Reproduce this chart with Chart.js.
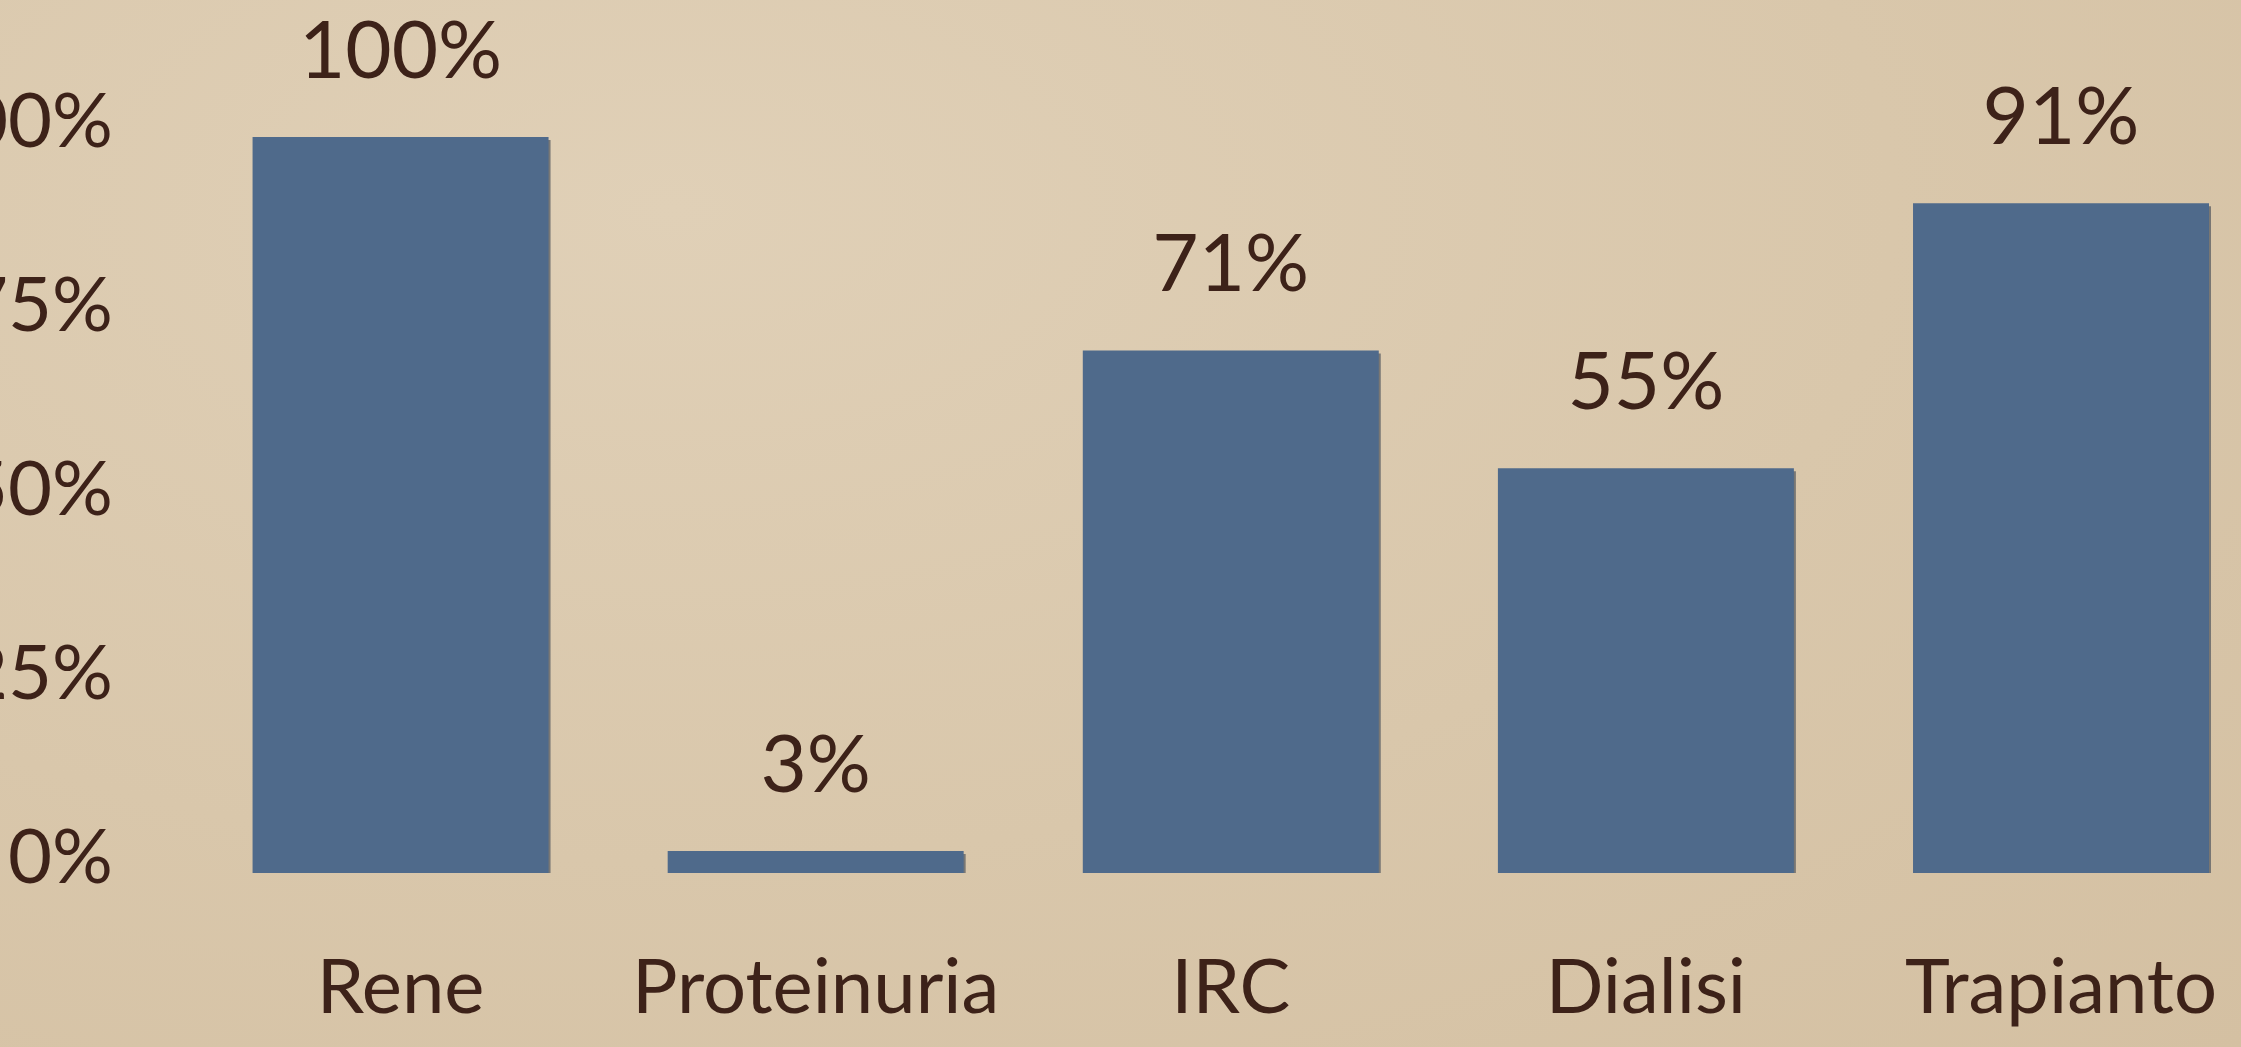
<!DOCTYPE html>
<html>
<head>
<meta charset="utf-8">
<script src="https://cdn.jsdelivr.net/npm/chart.js@4/dist/chart.umd.min.js"></script>
<style>
  html, body { margin: 0; padding: 0; overflow: hidden; }
  body {
    width: 2241px; height: 1047px; position: relative;
    background: radial-gradient(ellipse at 30% 20%, #e0d0b7 0%, #d9c7ab 55%, #d4c0a2 100%);
  }
  #wrap { position: absolute; left: -77px; top: 0; width: 2364px; height: 1047px; }
</style>
</head>
<body>
<div id="wrap"><canvas id="chart"></canvas></div>
<script>
// dati
const categorie = ['Rene', 'Proteinuria', 'IRC', 'Dialisi', 'Trapianto'];
const valori = [100, 3, 71, 55, 91];
const tickY = [0, 25, 50, 75, 100];

const inchiostro = '#3d2219';
const blu = '#4f6a8b';

// etichette sopra le barre
const etichette = {
    id: 'etichette',
    afterDatasetsDraw(chart) {
        const ctx = chart.ctx;
        const meta = chart.getDatasetMeta(0);
        ctx.save();
        ctx.font = '80px Lato';
        ctx.fillStyle = inchiostro;
        ctx.textAlign = 'center';
        ctx.textBaseline = 'alphabetic';
        meta.data.forEach((bar, i) => {
            ctx.fillText(valori[i] + '%', bar.x, bar.y - 59);
        });
        ctx.restore();
    }
};

// ombra sotto le barre
const ombra = {
    id: 'ombra',
    beforeDatasetsDraw(chart) {
        const ctx = chart.ctx;
        ctx.save();
        ctx.shadowColor = 'rgba(110,110,110,0.9)';
        ctx.shadowOffsetY = 3;
        ctx.shadowOffsetX = 2;
        ctx.shadowBlur = 0;
    },
    afterDatasetsDraw(chart) {
        chart.ctx.restore();
    }
};

new Chart(document.getElementById('chart'), {
    type: 'bar',
    data: {
        labels: categorie,
        datasets: [{
            data: valori,
            backgroundColor: blu,
            borderWidth: 0,
            categoryPercentage: 1,
            barPercentage: 0.713
        }]
    },
    options: {
        responsive: true,
        maintainAspectRatio: false,
        animation: false,
        layout: { padding: { top: 137, right: 0, bottom: 0, left: 0 } },
        plugins: { legend: { display: false }, tooltip: { enabled: false } },
        scales: {
            x: {
                grid: { display: false, drawTicks: false },
                border: { display: false },
                ticks: {
                    color: inchiostro,
                    font: { family: 'Lato', size: 76 },
                    padding: 70,
                    maxRotation: 0,
                    autoSkip: false
                },
                afterFit(scale) { scale.height = 174; }
            },
            y: {
                min: 0,
                max: 100,
                grid: { display: false, drawTicks: false },
                border: { display: false },
                afterBuildTicks(scale) { scale.ticks = tickY.map(v => ({ value: v })); },
                ticks: {
                    color: inchiostro,
                    font: { family: 'Lato', size: 76 },
                    padding: 80,
                    labelOffset: -15,
                    callback: v => v + '%'
                },
                afterFit(scale) { scale.width = 270; }
            }
        }
    },
    plugins: [ombra, etichette]
});
</script>
</body>
</html>
